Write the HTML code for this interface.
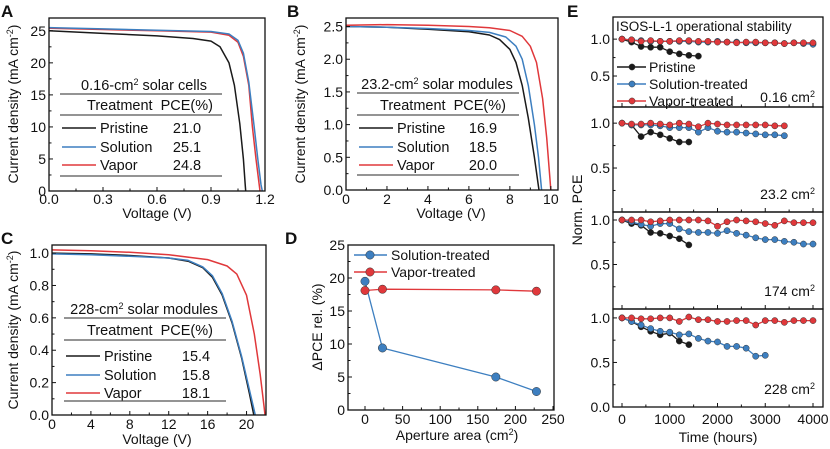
<!DOCTYPE html>
<html><head><meta charset="utf-8"><style>
body{margin:0;background:#fff}
svg{display:block;font-family:"Liberation Sans",Arial,sans-serif}
</style></head><body>
<svg id="fig" width="830" height="449" viewBox="0 0 830 449" xmlns="http://www.w3.org/2000/svg"></svg>
<script>
// ---------- DATA ----------
const aPristine=[[0,25.0],[0.3,24.6],[0.6,24.2],[0.8,23.8],[0.9,23.4],[0.95,22.5],[1.0,20.0],[1.03,16.5],[1.06,10.5],[1.08,5],[1.09,1],[1.093,0]];
const aSolution=[[0,25.5],[0.3,25.3],[0.6,25.1],[0.9,24.9],[1.0,24.5],[1.05,23.5],[1.08,21.5],[1.11,17],[1.14,10],[1.16,5],[1.178,1],[1.185,0]];
const aVapor=[[0,25.4],[0.3,25.2],[0.6,25.0],[0.9,24.8],[1.0,24.3],[1.05,23.2],[1.08,21.0],[1.11,16.5],[1.13,10],[1.15,5],[1.168,1],[1.172,0]];
const bPristine=[[0,2.5],[2,2.49],[4,2.46],[6,2.42],[7,2.37],[7.5,2.3],[8,2.15],[8.3,1.95],[8.6,1.6],[8.9,1.1],[9.2,0.5],[9.4,0.05],[9.42,0]];
const bSolution=[[0,2.5],[2,2.49],[4,2.47],[6,2.44],[7,2.41],[7.8,2.34],[8.3,2.2],[8.6,2.0],[8.9,1.6],[9.2,1.0],[9.4,0.5],[9.55,0]];
const bVapor=[[0,2.52],[2,2.53],[4,2.52],[6,2.5],[7,2.48],[8,2.44],[8.6,2.35],[9.0,2.2],[9.3,1.95],[9.6,1.4],[9.8,0.8],[9.95,0.2],[10.0,0]];
const cPristine=[[0,1.0],[4,0.995],[8,0.985],[12,0.97],[14,0.95],[15.5,0.91],[16.5,0.85],[17.5,0.74],[18.5,0.57],[19.5,0.35],[20.3,0.13],[20.75,0]];
const cSolution=[[0,0.995],[4,0.99],[8,0.98],[12,0.97],[14,0.955],[15.5,0.915],[16.5,0.86],[17.5,0.75],[18.5,0.58],[19.5,0.36],[20.4,0.13],[20.9,0]];
const cVapor=[[0,1.02],[4,1.015],[8,1.005],[12,0.99],[16,0.96],[18,0.92],[19,0.87],[20,0.74],[20.8,0.5],[21.4,0.25],[21.8,0.05],[21.9,0]];
const dAreas=[0,23.2,174,228];
const dSolution=[19.5,9.4,5.0,2.8];
const dVapor=[18.1,18.3,18.2,18.0];
const eStep=200;
const e1Pristine=[1.0,0.96,0.9,0.89,0.89,0.83,0.8,0.78,0.77];
const e1Solution=[1.0,0.99,0.98,0.97,0.97,0.97,0.97,0.97,0.96,0.96,0.97,0.96,0.96,0.95,0.95,0.95,0.95,0.94,0.95,0.94,0.93];
const e1Vapor=[1.0,0.99,0.97,0.98,0.97,0.97,0.98,0.98,0.97,0.97,0.96,0.96,0.95,0.96,0.96,0.95,0.95,0.94,0.95,0.95,0.95];
const e2Pristine=[1.0,0.98,0.85,0.9,0.87,0.83,0.79,0.79];
const e2Solution=[1.0,0.98,0.98,0.98,0.97,0.95,0.95,0.95,0.9,0.95,0.91,0.9,0.9,0.89,0.88,0.87,0.87,0.86];
const e2Vapor=[1.0,0.99,0.99,1.0,0.99,0.98,1.0,0.99,0.96,1.0,0.99,0.98,0.98,0.98,0.98,0.98,0.97,0.97];
const e3Pristine=[1.0,0.96,0.94,0.86,0.85,0.82,0.79,0.72];
const e3Solution=[1.0,0.98,0.95,0.93,0.96,0.96,0.9,0.87,0.86,0.86,0.85,0.88,0.85,0.83,0.8,0.78,0.78,0.76,0.75,0.73,0.73];
const e3Vapor=[1.0,1.0,1.0,0.98,0.99,1.0,1.0,1.0,1.0,0.99,0.93,0.98,1.0,0.99,0.98,0.96,0.94,0.99,0.97,0.97,0.97];
const e4Pristine=[1.0,0.96,0.9,0.85,0.81,0.83,0.74,0.7];
const e4Solution=[1.0,0.96,0.92,0.88,0.85,0.84,0.81,0.82,0.77,0.74,0.73,0.68,0.68,0.66,0.57,0.58];
const e4Vapor=[1.0,1.0,0.99,0.99,1.0,1.0,0.96,1.01,0.98,0.98,0.96,0.96,0.97,0.97,0.92,0.97,0.97,0.95,0.97,0.97,0.97];
const COL={k:'#1a1a1a',b:'#3d7fc0',r:'#e0383b'};

// ---------- HELPERS ----------
const NS='http://www.w3.org/2000/svg';
const svg=document.getElementById('fig');
function mk(tag,attrs,parent,text){const e=document.createElementNS(NS,tag);for(const k in attrs)e.setAttribute(k,attrs[k]);if(text!==undefined)e.textContent=text;(parent||svg).appendChild(e);return e;}
function scale(d0,d1,r0,r1){return v=>r0+(v-d0)/(d1-d0)*(r1-r0);}
function txt(x,y,s,size,anchor,name,extra){const t=mk('text',Object.assign({x:x,y:y,'font-size':size,'text-anchor':anchor||'start',fill:'#111'},extra||{}),svg);t.innerHTML=s;


return t;}
function box(x0,y0,x1,y1,name){const r=mk('rect',{x:x0,y:y0,width:x1-x0,height:y1-y0,fill:'none',stroke:'#111','stroke-width':1.3});

}
function xticks(sx,y0,vals,minor,labels,yLab,prefix,len){
  vals.forEach((v,i)=>{const l=mk('line',{x1:sx(v),x2:sx(v),y1:y0,y2:y0-(len||4),stroke:'#111','stroke-width':1});
    
    
    if(labels)txt(sx(v),yLab,labels[i],14,'middle',prefix+'-x-tick-label');});
  (minor||[]).forEach(v=>{const l=mk('line',{x1:sx(v),x2:sx(v),y1:y0,y2:y0-2.5,stroke:'#111','stroke-width':1});
    
    });
}
function yticks(sy,x0,vals,minor,labels,prefix){
  vals.forEach((v,i)=>{const l=mk('line',{x1:x0,x2:x0+4,y1:sy(v),y2:sy(v),stroke:'#111','stroke-width':1});
    
    
    txt(x0-3,sy(v)+5,labels[i],14,'end',prefix+'-y-tick-label');});
  (minor||[]).forEach(v=>{const l=mk('line',{x1:x0,x2:x0+2.5,y1:sy(v),y2:sy(v),stroke:'#111','stroke-width':1});
    
    });
}
function curve(pts,sx,sy,col,name,w){const p=mk('polyline',{points:pts.map(q=>sx(q[0]).toFixed(1)+','+sy(q[1]).toFixed(1)).join(' '),fill:'none',stroke:col,'stroke-width':w||1.5,'stroke-linejoin':'round'});

}
function dot(x,y,col,r,name){const c=mk('circle',{cx:x,cy:y,r:r,fill:col,stroke:'#333','stroke-width':0.5});

}
function hline(x0,x1,y,name){const l=mk('line',{x1:x0,x2:x1,y1:y,y2:y,stroke:'#555','stroke-width':1.2});

}
function seg(x0,x1,y,col,name){const l=mk('line',{x1:x0,x2:x1,y1:y,y2:y,stroke:col,'stroke-width':1.6});

}
function rng(a,b,s){const o=[];for(let v=a;v<=b+1e-9;v+=s)o.push(+v.toFixed(4));return o;}
function ytitle(x,y,s,name){txt(x,y,s,14,'middle',name,{transform:`rotate(-90 ${x} ${y})`});}
function table(cfg,prefix){
  txt(cfg.tx,cfg.y1-4,cfg.title,14.5,'middle',prefix+'-table-title');
  hline(cfg.x0,cfg.x1,cfg.y1,prefix+'-table-rule-top');
  txt(cfg.tx+6,cfg.y2-5,'Treatment&#160; PCE(%)',14.5,'middle',prefix+'-table-header');
  hline(cfg.x0,cfg.x1,cfg.y2,prefix+'-table-rule-mid');
  const names=['Pristine','Solution','Vapor'],cols=[COL.k,COL.b,COL.r];
  cfg.rows.forEach((ry,i)=>{seg(cfg.x0+2,cfg.x0+36,ry-5,cols[i],prefix+'-legend-line-'+names[i].toLowerCase());
    txt(cfg.x0+40,ry,names[i],14.5,'start',prefix+'-legend-label-'+names[i].toLowerCase());
    txt(cfg.vx,ry,cfg.vals[i],14.5,'middle',prefix+'-pce-'+names[i].toLowerCase());});
  hline(cfg.x0,cfg.x1,cfg.y3,prefix+'-table-rule-bottom');
}

// ---------- PANEL A ----------
(function(){const x0=49,x1=265,y0=18,y1=191;const sx=scale(0,1.2,x0,x1),sy=scale(0,27,y1,y0);
curve(aPristine,sx,sy,COL.k,'a-pristine-curve');curve(aVapor,sx,sy,COL.r,'a-vapor-curve');curve(aSolution,sx,sy,COL.b,'a-solution-curve');
box(x0,y0,x1,y1,'a-plot-frame');
xticks(sx,y1,rng(0,1.2,0.3),rng(0.15,1.05,0.3),['0.0','0.3','0.6','0.9','1.2'],204,'a');
yticks(sy,x0,rng(0,25,5),rng(2.5,22.5,5),['0','5','10','15','20','25'],'a');
txt(157,218,'Voltage (V)',14,'middle','a-x-axis-title');
ytitle(18,104,'Current density (mA cm<tspan dy="-5" font-size="9">-2</tspan><tspan dy="5">)</tspan>','a-y-axis-title');
table({tx:144,title:'0.16-cm<tspan dy="-5" font-size="9">2</tspan><tspan dy="5"> solar cells</tspan>',x0:60,x1:222,y1:94,y2:115,y3:176,rows:[133,152,170],vals:['21.0','25.1','24.8'],vx:187},'a');
txt(1,17,'A',17,'start','a-panel-label',{'font-weight':'bold'});
})();
// ---------- PANEL B ----------
(function(){const x0=346,x1=558,y0=18,y1=190;const sx=scale(0,10.35,x0,x1),sy=scale(0,2.6,y1,y0+2);
curve(bPristine,sx,sy,COL.k,'b-pristine-curve');curve(bSolution,sx,sy,COL.b,'b-solution-curve');curve(bVapor,sx,sy,COL.r,'b-vapor-curve');
box(x0,y0,x1,y1,'b-plot-frame');
xticks(sx,y1,rng(0,10,2),rng(1,9,2),['0','2','4','6','8','10'],204,'b');
yticks(sy,x0,rng(0,2.5,0.5),rng(0.25,2.25,0.5),['0.0','0.5','1.0','1.5','2.0','2.5'],'b');
txt(451,218,'Voltage (V)',14,'middle','b-x-axis-title');
ytitle(305,104,'Current density (mA cm<tspan dy="-5" font-size="9">-2</tspan><tspan dy="5">)</tspan>','b-y-axis-title');
table({tx:437,title:'23.2-cm<tspan dy="-5" font-size="9">2</tspan><tspan dy="5"> solar modules</tspan>',x0:357,x1:519,y1:93,y2:115,y3:175,rows:[133,152,170],vals:['16.9','18.5','20.0'],vx:483},'b');
txt(287,17,'B',17,'start','b-panel-label',{'font-weight':'bold'});
})();
// ---------- PANEL C ----------
(function(){const x0=52,x1=266,y0=245,y1=415;const sx=scale(0,22,x0,x1),sy=scale(0,1.05,y1,y0);
curve(cPristine,sx,sy,COL.k,'c-pristine-curve');curve(cSolution,sx,sy,COL.b,'c-solution-curve');curve(cVapor,sx,sy,COL.r,'c-vapor-curve');
box(x0,y0,x1,y1,'c-plot-frame');
xticks(sx,y1,rng(0,20,4),rng(2,18,4),['0','4','8','12','16','20'],429,'c');
yticks(sy,x0,rng(0,1,0.2),rng(0.1,0.9,0.2),['0.0','0.2','0.4','0.6','0.8','1.0'],'c');
txt(157,444,'Voltage (V)',14,'middle','c-x-axis-title');
ytitle(18,330,'Current density (mA cm<tspan dy="-5" font-size="9">-2</tspan><tspan dy="5">)</tspan>','c-y-axis-title');
table({tx:144,title:'228-cm<tspan dy="-5" font-size="9">2</tspan><tspan dy="5"> solar modules</tspan>',x0:64,x1:226,y1:318,y2:340,y3:401,rows:[361,380,398],vals:['15.4','15.8','18.1'],vx:196},'c');
txt(1,244,'C',17,'start','c-panel-label',{'font-weight':'bold'});
})();
// ---------- PANEL D ----------
(function(){const x0=348,x1=554,y0=245,y1=410;const sx=scale(0,250,365,553),sy=scale(0,25,y1,y0);
curve(dAreas.map((a,i)=>[a,dVapor[i]]),sx,sy,COL.r,'d-vapor-line',1.3);
curve(dAreas.map((a,i)=>[a,dSolution[i]]),sx,sy,COL.b,'d-solution-line',1.3);
dAreas.forEach((a,i)=>dot(sx(a),sy(dVapor[i]),COL.r,4.2,'d-vapor-point'));
dAreas.forEach((a,i)=>dot(sx(a),sy(dSolution[i]),COL.b,4.2,'d-solution-point'));
box(x0,y0,x1,y1,'d-plot-frame');
xticks(sx,y1,rng(0,250,50),rng(25,225,50),['0','50','100','150','200','250'],424,'d');
yticks(sy,x0,rng(0,25,5),rng(2.5,22.5,5),['0','5','10','15','20','25'],'d');
txt(457,440,'Aperture area (cm<tspan dy="-5" font-size="9">2</tspan><tspan dy="5">)</tspan>',14,'middle','d-x-axis-title');
ytitle(322,327,'ΔPCE rel. (%)','d-y-axis-title');
seg(354,387,255,COL.b,'d-legend-line-solution');dot(370,255,COL.b,4.2,'d-legend-marker-solution');txt(391,260,'Solution-treated',14,'start','d-legend-label-solution');
seg(354,387,272,COL.r,'d-legend-line-vapor');dot(370,272,COL.r,4.2,'d-legend-marker-vapor');txt(391,277,'Vapor-treated',14,'start','d-legend-label-vapor');
txt(285,244,'D',17,'start','d-panel-label',{'font-weight':'bold'});
})();
// ---------- PANEL E ----------
(function(){const x0=613,x1=823;const sx=scale(0,4000,622,813);
const subs=[
 {top:17,bot:107,d0:0.08,d1:1.3,p:e1Pristine,s:e1Solution,v:e1Vapor,lab:'0.16 cm',ly:102,t:[1.0,0.5],tl:['1.0','0.5'],mi:[0.75]},
 {top:107,bot:212,d0:0.01,d1:1.18,p:e2Pristine,s:e2Solution,v:e2Vapor,lab:'23.2 cm',ly:199,t:[1.0,0.5],tl:['1.0','0.5'],mi:[0.75,0.25]},
 {top:212,bot:309,d0:0.0,d1:1.09,p:e3Pristine,s:e3Solution,v:e3Vapor,lab:'174 cm',ly:296,t:[1.0,0.5],tl:['1.0','0.5'],mi:[0.75,0.25]},
 {top:309,bot:407,d0:0.0,d1:1.1,p:e4Pristine,s:e4Solution,v:e4Vapor,lab:'228 cm',ly:394,t:[1.0,0.5,0.0],tl:['1.0','0.5','0.0'],mi:[0.75,0.25]}];
subs.forEach((sp,k)=>{const sy=scale(sp.d0,sp.d1,sp.bot,sp.top);const pre='e'+(k+1);
 [[sp.p,COL.k,'pristine'],[sp.s,COL.b,'solution'],[sp.v,COL.r,'vapor']].forEach(([arr,col,nm])=>{
  curve(arr.map((v,i)=>[i*eStep,v]),sx,sy,col,pre+'-'+nm+'-line',1.3);
  arr.forEach((v,i)=>dot(sx(i*eStep),sy(v),col,3.1,pre+'-'+nm+'-point'));});
 box(x0,sp.top,x1,sp.bot,pre+'-plot-frame');
 xticks(sx,sp.bot,rng(0,4000,1000),rng(500,3500,1000),k===3?['0','1000','2000','3000','4000']:null,424,pre);
 yticks(sy,x0,sp.t,sp.mi,sp.tl,pre);
 txt(815,sp.ly,sp.lab+'<tspan dy="-5" font-size="9">2</tspan>',14,'end',pre+'-area-label');
});
txt(616,31,'ISOS-L-1 operational stability',13.5,'start','e-title');
const ln=[['Pristine',COL.k,67],['Solution-treated',COL.b,84],['Vapor-treated',COL.r,101]];
ln.forEach(([n,c,y])=>{const nm=n.split('-')[0].toLowerCase();seg(617,646,y,c,'e-legend-line-'+nm);dot(632,y,c,3.1,'e-legend-marker-'+nm);txt(649,y+5,n,14,'start','e-legend-label-'+nm);});
txt(718,442,'Time (hours)',14,'middle','e-x-axis-title');
ytitle(582,210,'Norm. PCE','e-y-axis-title');
txt(567,17,'E',17,'start','e-panel-label',{'font-weight':'bold'});
})();
</script>
</body></html>
